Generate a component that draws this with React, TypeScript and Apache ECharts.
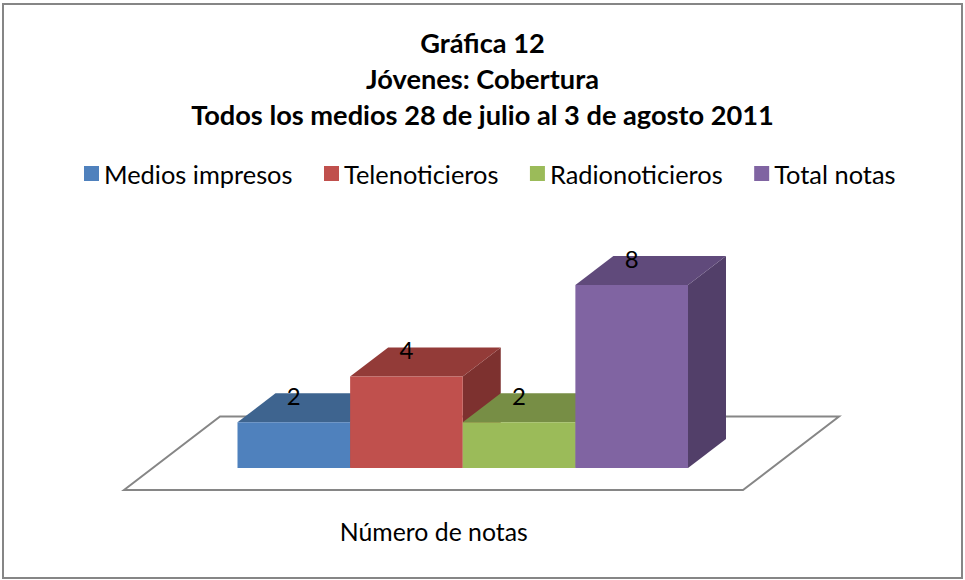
import React, { useEffect, useRef } from "react";
import * as echarts from "echarts";

const titleLines = ["Gráfica 12", "Jóvenes: Cobertura", "Todos los medios 28 de julio al 3 de agosto 2011"];
const categories = ["Número de notas"];
const seriesNames = ["Medios impresos", "Telenoticieros", "Radionoticieros", "Total notas"];
const mediosImpresos = [2];
const telenoticieros = [4];
const radionoticieros = [2];
const totalNotas = [8];
const seriesValues = [mediosImpresos, telenoticieros, radionoticieros, totalNotas];

const FONT = "Lato";
const frontColors = ["#4F81BD", "#C0504D", "#9BBB59", "#8064A2"];
const topColors = ["#3E648F", "#933B38", "#778E45", "#604A7B"];
const sideColors = ["#33527A", "#7D312F", "#657A3A", "#523F69"];
const DEPTH_X = 38;
const DEPTH_Y = 29;

export default function App() {
  const ref = useRef<HTMLDivElement>(null);
  useEffect(() => {
    document.body.style.margin = "0";
    const chart = echarts.init(ref.current!, undefined, { renderer: "svg" });
    const renderBar = (seriesIndex: number) => (params: any, api: any) => {
      const band = api.size([1, 0])[0];
      const w = band / seriesNames.length;
      const base = api.coord([api.value(0), 0]);
      const top = api.coord([api.value(0), api.value(1)]);
      const x0 = base[0] - band / 2 + seriesIndex * w;
      const x1 = x0 + w;
      const y0 = base[1];
      const y1 = top[1];
      return {
        type: "group",
        children: [
          {
            type: "polygon",
            shape: { points: [[x1, y1], [x1 + DEPTH_X, y1 - DEPTH_Y], [x1 + DEPTH_X, y0 - DEPTH_Y], [x1, y0]] },
            style: { fill: sideColors[seriesIndex] },
          },
          {
            type: "polygon",
            shape: { points: [[x0, y1], [x0 + DEPTH_X, y1 - DEPTH_Y], [x1 + DEPTH_X, y1 - DEPTH_Y], [x1, y1]] },
            style: { fill: topColors[seriesIndex] },
          },
          {
            type: "rect",
            shape: { x: x0, y: y1, width: w, height: y0 - y1 },
            style: { fill: frontColors[seriesIndex] },
          },
          {
            type: "text",
            style: {
              x: (x0 + x1) / 2,
              y: y1 - DEPTH_Y + 2,
              text: String(api.value(1)),
              fill: "#000",
              font: `24px ${FONT}`,
              align: "center",
              verticalAlign: "middle",
            },
          },
        ],
      };
    };
    chart.setOption({
      animation: false,
      backgroundColor: "#fff",
      title: {
        text: titleLines.join("\n"),
        left: 477.5,
        top: 19,
        textAlign: "center",
        textStyle: { fontFamily: FONT, fontSize: 27.2, fontWeight: "bold", color: "#000", lineHeight: 36 },
      },
      legend: {
        left: 79,
        top: 156,
        icon: "rect",
        itemWidth: 15,
        itemHeight: 15,
        itemGap: 31.5,
        data: seriesNames,
        textStyle: { fontFamily: FONT, fontSize: 25.4, color: "#000" },
      },
      grid: { left: 237.5, width: 450.5, top: 285, height: 183 },
      xAxis: {
        type: "category",
        data: categories,
        axisLine: { show: false },
        axisTick: { show: false },
        axisLabel: {
          margin: 51,
          padding: [0, 58, 0, 0],
          fontFamily: FONT,
          fontSize: 24.8,
          color: "#000",
        },
      },
      yAxis: { type: "value", min: 0, max: 8, show: false },
      graphic: [
        {
          type: "rect",
          z: 0,
          shape: { x: 3, y: 4, width: 959, height: 574 },
          style: { fill: "#fff", stroke: "#868686", lineWidth: 2 },
        },
        {
          type: "polygon",
          z: 1,
          shape: { points: [[124, 490], [220, 416.5], [839, 416.5], [743, 490]] },
          style: { fill: "#fff", stroke: "#868686", lineWidth: 2 },
        },
      ],
      series: seriesNames.map((name, i) => ({
        name,
        type: "custom",
        coordinateSystem: "cartesian2d",
        itemStyle: { color: frontColors[i] },
        encode: { x: 0, y: 1 },
        data: seriesValues[i].map((v, k) => [categories[k], v]),
        renderItem: renderBar(i),
      })),
    });
    return () => chart.dispose();
  }, []);
  return <div ref={ref} style={{ width: 965, height: 580 }} />;
}
